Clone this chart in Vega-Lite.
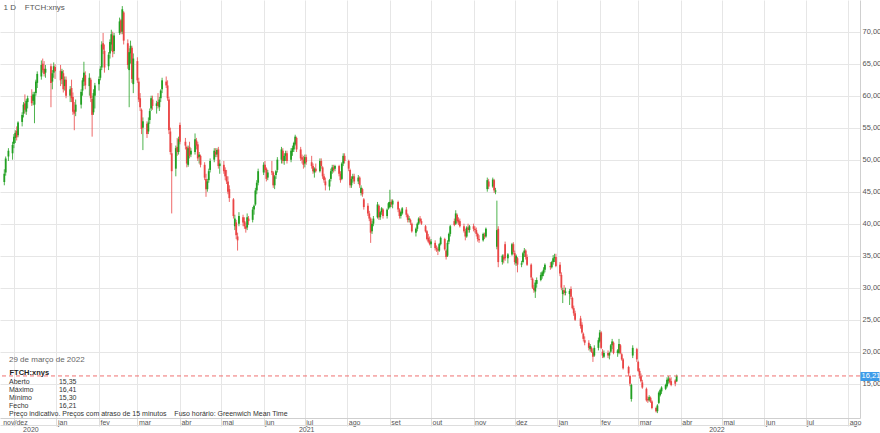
{
"$schema": "https://vega.github.io/schema/vega-lite/v6.json",
"width": 860, "height": 418,
"autosize": {"type": "none"},
"padding": {"left": 0, "top": 0, "right": 20, "bottom": 15},
"background": "white",
"config": {"view": {"stroke": null}, "font": "Liberation Sans", "axis": {"labelFont": "Liberation Sans", "titleFont": "Liberation Sans"}},
"title": {"text": "29 de março de 2022", "subtitle": ["Aberto", "Máximo", "Mínimo", "Fecho", "Preço indicativo. Preços com atraso de 15 minutos\u00a0\u00a0\u00a0\u00a0Fuso horário: Greenwich Mean Time"], "orient": "bottom", "anchor": "start", "frame": "group", "offset": -77, "dx": 9, "font": "Liberation Sans", "fontSize": 8, "fontWeight": "normal", "color": "#666666", "subtitleFont": "Liberation Sans", "subtitleFontSize": 7, "subtitleColor": "#333333", "subtitlePadding": 14, "subtitleLineHeight": 8.1},
"data": {"values": [
{"d":"2020-11-24","o":46.5,"h":48.5,"l":46.0,"c":47.8},
{"d":"2020-11-25","o":48.0,"h":50.5,"l":47.5,"c":50.2},
{"d":"2020-11-27","o":50.5,"h":51.8,"l":49.8,"c":51.4},
{"d":"2020-11-30","o":51.0,"h":52.8,"l":50.0,"c":52.3},
{"d":"2020-12-01","o":52.5,"h":54.0,"l":51.8,"c":53.6},
{"d":"2020-12-02","o":53.4,"h":54.6,"l":52.6,"c":54.2},
{"d":"2020-12-03","o":54.5,"h":55.2,"l":53.0,"c":53.5},
{"d":"2020-12-04","o":53.8,"h":56.0,"l":53.5,"c":55.8},
{"d":"2020-12-07","o":55.9,"h":57.4,"l":55.2,"c":57.0},
{"d":"2020-12-08","o":57.2,"h":59.0,"l":56.6,"c":58.6},
{"d":"2020-12-09","o":58.8,"h":60.2,"l":57.2,"c":57.8},
{"d":"2020-12-10","o":57.5,"h":59.5,"l":57.0,"c":59.2},
{"d":"2020-12-11","o":59.0,"h":60.0,"l":58.0,"c":59.6},
{"d":"2020-12-14","o":60.0,"h":61.0,"l":58.4,"c":58.8},
{"d":"2020-12-15","o":59.2,"h":60.6,"l":58.5,"c":60.2},
{"d":"2020-12-16","o":58.6,"h":60.6,"l":55.7,"c":60.2},
{"d":"2020-12-17","o":60.4,"h":62.5,"l":60.0,"c":62.2},
{"d":"2020-12-18","o":62.0,"h":63.8,"l":61.2,"c":63.4},
{"d":"2020-12-21","o":63.0,"h":65.5,"l":62.5,"c":64.8},
{"d":"2020-12-22","o":65.0,"h":65.8,"l":63.6,"c":64.0},
{"d":"2020-12-23","o":64.2,"h":65.4,"l":63.0,"c":63.4},
{"d":"2020-12-24","o":63.6,"h":64.8,"l":62.8,"c":64.2},
{"d":"2020-12-28","o":64.6,"h":65.0,"l":58.2,"c":62.0},
{"d":"2020-12-29","o":62.2,"h":64.0,"l":61.0,"c":63.5},
{"d":"2020-12-30","o":63.6,"h":65.2,"l":62.8,"c":64.6},
{"d":"2020-12-31","o":64.5,"h":64.9,"l":62.6,"c":63.8},
{"d":"2021-01-04","o":63.9,"h":64.8,"l":61.5,"c":62.4},
{"d":"2021-01-05","o":62.6,"h":64.2,"l":61.8,"c":63.8},
{"d":"2021-01-06","o":63.5,"h":64.0,"l":60.5,"c":61.0},
{"d":"2021-01-07","o":61.5,"h":63.0,"l":60.8,"c":62.5},
{"d":"2021-01-08","o":62.5,"h":63.0,"l":59.6,"c":60.0},
{"d":"2021-01-11","o":60.0,"h":61.5,"l":59.0,"c":61.0},
{"d":"2021-01-12","o":61.2,"h":62.5,"l":59.0,"c":59.6},
{"d":"2021-01-13","o":59.8,"h":60.5,"l":57.0,"c":57.5},
{"d":"2021-01-14","o":57.8,"h":59.0,"l":54.6,"c":57.2},
{"d":"2021-01-15","o":57.5,"h":59.4,"l":56.8,"c":58.6},
{"d":"2021-01-19","o":58.6,"h":61.0,"l":58.0,"c":60.6},
{"d":"2021-01-20","o":60.8,"h":62.8,"l":60.0,"c":62.4},
{"d":"2021-01-21","o":62.2,"h":65.3,"l":61.5,"c":63.6},
{"d":"2021-01-22","o":63.2,"h":63.8,"l":61.0,"c":61.6},
{"d":"2021-01-25","o":61.5,"h":63.5,"l":60.0,"c":62.8},
{"d":"2021-01-26","o":62.5,"h":62.8,"l":59.0,"c":59.6},
{"d":"2021-01-27","o":59.5,"h":60.0,"l":53.6,"c":57.0},
{"d":"2021-01-28","o":57.4,"h":61.0,"l":57.0,"c":60.4},
{"d":"2021-01-29","o":60.0,"h":62.0,"l":58.0,"c":61.6},
{"d":"2021-02-01","o":61.8,"h":63.0,"l":60.8,"c":62.6},
{"d":"2021-02-02","o":62.8,"h":64.6,"l":62.4,"c":64.2},
{"d":"2021-02-03","o":64.4,"h":68.5,"l":64.0,"c":68.0},
{"d":"2021-02-04","o":68.2,"h":69.8,"l":66.5,"c":67.2},
{"d":"2021-02-05","o":67.0,"h":68.0,"l":63.6,"c":64.4},
{"d":"2021-02-08","o":64.6,"h":66.8,"l":64.0,"c":66.4},
{"d":"2021-02-09","o":66.6,"h":68.8,"l":65.8,"c":68.4},
{"d":"2021-02-10","o":68.0,"h":70.3,"l":67.0,"c":69.6},
{"d":"2021-02-11","o":69.4,"h":70.0,"l":66.0,"c":66.8},
{"d":"2021-02-12","o":67.0,"h":69.8,"l":66.5,"c":69.4},
{"d":"2021-02-16","o":69.8,"h":72.2,"l":69.5,"c":71.6},
{"d":"2021-02-17","o":71.8,"h":72.0,"l":69.6,"c":70.0},
{"d":"2021-02-18","o":70.0,"h":74.0,"l":69.6,"c":73.5},
{"d":"2021-02-19","o":73.0,"h":73.2,"l":68.0,"c":68.6},
{"d":"2021-02-22","o":68.2,"h":68.8,"l":64.2,"c":64.8},
{"d":"2021-02-23","o":64.0,"h":67.4,"l":58.2,"c":66.8},
{"d":"2021-02-24","o":66.6,"h":68.6,"l":65.0,"c":67.8},
{"d":"2021-02-25","o":67.5,"h":67.8,"l":62.0,"c":62.6},
{"d":"2021-02-26","o":61.8,"h":66.6,"l":60.4,"c":65.8},
{"d":"2021-03-01","o":65.4,"h":66.0,"l":62.0,"c":62.4},
{"d":"2021-03-02","o":62.2,"h":62.8,"l":59.0,"c":59.4},
{"d":"2021-03-03","o":59.6,"h":60.4,"l":57.6,"c":58.2},
{"d":"2021-03-04","o":57.8,"h":58.0,"l":54.0,"c":54.8},
{"d":"2021-03-05","o":55.0,"h":56.6,"l":51.5,"c":56.0},
{"d":"2021-03-08","o":55.6,"h":56.0,"l":53.4,"c":54.0},
{"d":"2021-03-09","o":54.4,"h":56.6,"l":54.0,"c":55.8},
{"d":"2021-03-10","o":56.2,"h":58.0,"l":55.6,"c":57.6},
{"d":"2021-03-11","o":58.0,"h":60.0,"l":57.6,"c":59.6},
{"d":"2021-03-12","o":59.4,"h":60.0,"l":57.8,"c":58.4},
{"d":"2021-03-15","o":58.4,"h":59.2,"l":57.2,"c":58.8},
{"d":"2021-03-16","o":59.0,"h":60.4,"l":58.0,"c":58.4},
{"d":"2021-03-17","o":58.2,"h":59.8,"l":57.6,"c":59.4},
{"d":"2021-03-18","o":59.6,"h":61.0,"l":59.0,"c":60.8},
{"d":"2021-03-19","o":61.0,"h":62.8,"l":60.4,"c":62.4},
{"d":"2021-03-22","o":62.2,"h":63.0,"l":61.2,"c":61.6},
{"d":"2021-03-23","o":61.6,"h":62.4,"l":59.2,"c":59.6},
{"d":"2021-03-24","o":59.4,"h":59.8,"l":54.0,"c":54.6},
{"d":"2021-03-25","o":54.4,"h":55.0,"l":50.8,"c":51.2},
{"d":"2021-03-26","o":51.0,"h":52.6,"l":41.6,"c":48.2},
{"d":"2021-03-29","o":48.6,"h":52.2,"l":47.4,"c":51.8},
{"d":"2021-03-30","o":52.0,"h":53.4,"l":50.6,"c":51.2},
{"d":"2021-03-31","o":51.2,"h":53.6,"l":50.8,"c":53.2},
{"d":"2021-04-01","o":55.4,"h":55.8,"l":52.4,"c":52.8},
{"d":"2021-04-05","o":52.8,"h":53.4,"l":51.6,"c":52.2},
{"d":"2021-04-06","o":52.0,"h":52.2,"l":48.8,"c":49.4},
{"d":"2021-04-07","o":49.2,"h":52.2,"l":48.9,"c":51.8},
{"d":"2021-04-08","o":52.0,"h":52.8,"l":50.2,"c":50.6},
{"d":"2021-04-09","o":50.8,"h":51.8,"l":50.4,"c":51.4},
{"d":"2021-04-12","o":51.2,"h":54.1,"l":50.8,"c":53.2},
{"d":"2021-04-13","o":53.0,"h":53.4,"l":51.6,"c":52.2},
{"d":"2021-04-14","o":52.4,"h":52.8,"l":49.8,"c":50.2},
{"d":"2021-04-15","o":50.4,"h":51.2,"l":49.4,"c":50.8},
{"d":"2021-04-16","o":50.6,"h":50.8,"l":48.8,"c":49.2},
{"d":"2021-04-19","o":49.2,"h":49.6,"l":46.8,"c":47.2},
{"d":"2021-04-20","o":47.0,"h":47.8,"l":44.2,"c":45.4},
{"d":"2021-04-21","o":45.4,"h":47.0,"l":45.0,"c":46.6},
{"d":"2021-04-22","o":46.8,"h":48.6,"l":46.4,"c":48.2},
{"d":"2021-04-23","o":48.4,"h":50.2,"l":48.0,"c":49.8},
{"d":"2021-04-26","o":50.0,"h":51.8,"l":49.6,"c":51.4},
{"d":"2021-04-27","o":51.2,"h":51.8,"l":50.4,"c":50.8},
{"d":"2021-04-28","o":50.8,"h":51.8,"l":50.4,"c":51.5},
{"d":"2021-04-29","o":51.6,"h":52.0,"l":48.6,"c":49.0},
{"d":"2021-04-30","o":49.0,"h":50.0,"l":47.8,"c":49.4},
{"d":"2021-05-03","o":49.2,"h":49.8,"l":47.8,"c":48.2},
{"d":"2021-05-04","o":48.4,"h":48.8,"l":46.8,"c":47.4},
{"d":"2021-05-05","o":47.4,"h":48.4,"l":46.2,"c":46.6},
{"d":"2021-05-06","o":46.6,"h":47.4,"l":44.6,"c":45.0},
{"d":"2021-05-07","o":45.4,"h":46.0,"l":43.4,"c":44.0},
{"d":"2021-05-10","o":43.8,"h":44.0,"l":40.8,"c":41.2},
{"d":"2021-05-11","o":39.6,"h":41.4,"l":39.0,"c":40.8},
{"d":"2021-05-12","o":40.2,"h":40.6,"l":37.6,"c":38.2},
{"d":"2021-05-13","o":38.0,"h":38.6,"l":35.8,"c":37.4},
{"d":"2021-05-14","o":40.0,"h":41.8,"l":39.6,"c":41.2},
{"d":"2021-05-17","o":41.0,"h":41.4,"l":39.6,"c":40.2},
{"d":"2021-05-18","o":40.4,"h":41.0,"l":39.2,"c":39.6},
{"d":"2021-05-19","o":39.6,"h":40.2,"l":38.6,"c":39.2},
{"d":"2021-05-20","o":39.4,"h":41.6,"l":39.0,"c":41.0},
{"d":"2021-05-21","o":40.8,"h":41.2,"l":39.8,"c":40.4},
{"d":"2021-05-24","o":40.6,"h":42.6,"l":40.2,"c":42.2},
{"d":"2021-05-25","o":42.2,"h":43.0,"l":41.4,"c":42.8},
{"d":"2021-05-26","o":43.0,"h":45.6,"l":42.8,"c":45.2},
{"d":"2021-05-27","o":45.2,"h":46.8,"l":44.6,"c":46.4},
{"d":"2021-05-28","o":46.4,"h":48.6,"l":46.0,"c":48.2},
{"d":"2021-06-01","o":48.0,"h":49.6,"l":47.6,"c":49.2},
{"d":"2021-06-02","o":49.2,"h":49.8,"l":48.0,"c":48.4},
{"d":"2021-06-03","o":48.6,"h":48.8,"l":46.6,"c":47.0},
{"d":"2021-06-04","o":47.2,"h":48.4,"l":46.8,"c":48.0},
{"d":"2021-06-07","o":48.2,"h":49.8,"l":47.6,"c":48.0},
{"d":"2021-06-08","o":48.0,"h":48.2,"l":45.6,"c":46.0},
{"d":"2021-06-09","o":46.0,"h":47.6,"l":45.4,"c":47.4},
{"d":"2021-06-10","o":47.6,"h":48.4,"l":47.0,"c":48.2},
{"d":"2021-06-11","o":48.4,"h":50.4,"l":48.0,"c":50.0},
{"d":"2021-06-14","o":50.0,"h":52.0,"l":49.4,"c":51.6},
{"d":"2021-06-15","o":51.4,"h":51.8,"l":49.4,"c":49.8},
{"d":"2021-06-16","o":49.8,"h":51.0,"l":49.2,"c":50.6},
{"d":"2021-06-17","o":50.6,"h":51.4,"l":49.8,"c":51.0},
{"d":"2021-06-18","o":51.0,"h":51.4,"l":49.4,"c":49.8},
{"d":"2021-06-21","o":50.0,"h":51.8,"l":49.6,"c":51.4},
{"d":"2021-06-22","o":51.2,"h":52.2,"l":50.6,"c":51.8},
{"d":"2021-06-23","o":51.6,"h":52.8,"l":51.2,"c":52.6},
{"d":"2021-06-24","o":52.4,"h":53.9,"l":52.2,"c":53.6},
{"d":"2021-06-25","o":53.4,"h":53.6,"l":51.2,"c":51.6},
{"d":"2021-06-28","o":51.6,"h":52.0,"l":49.8,"c":50.2},
{"d":"2021-06-29","o":50.4,"h":50.8,"l":49.4,"c":50.0},
{"d":"2021-06-30","o":50.0,"h":50.6,"l":48.6,"c":49.2},
{"d":"2021-07-01","o":49.4,"h":50.8,"l":48.8,"c":50.4},
{"d":"2021-07-02","o":50.4,"h":50.8,"l":49.2,"c":49.6},
{"d":"2021-07-06","o":49.6,"h":50.6,"l":48.6,"c":49.0},
{"d":"2021-07-07","o":49.0,"h":49.4,"l":47.8,"c":48.2},
{"d":"2021-07-08","o":48.0,"h":48.8,"l":47.2,"c":48.6},
{"d":"2021-07-09","o":48.6,"h":49.4,"l":48.0,"c":48.2},
{"d":"2021-07-12","o":48.2,"h":50.2,"l":48.0,"c":49.8},
{"d":"2021-07-13","o":49.8,"h":50.2,"l":48.6,"c":49.0},
{"d":"2021-07-14","o":48.8,"h":49.0,"l":47.0,"c":47.4},
{"d":"2021-07-15","o":47.4,"h":47.8,"l":46.4,"c":46.8},
{"d":"2021-07-16","o":46.6,"h":47.2,"l":45.2,"c":46.0},
{"d":"2021-07-19","o":45.8,"h":47.0,"l":45.2,"c":46.8},
{"d":"2021-07-20","o":47.0,"h":48.6,"l":46.6,"c":48.2},
{"d":"2021-07-21","o":48.2,"h":49.2,"l":47.8,"c":48.8},
{"d":"2021-07-22","o":48.8,"h":49.2,"l":48.0,"c":48.4},
{"d":"2021-07-23","o":48.6,"h":49.2,"l":48.2,"c":49.0},
{"d":"2021-07-26","o":49.0,"h":49.2,"l":47.4,"c":47.8},
{"d":"2021-07-27","o":47.8,"h":48.2,"l":46.4,"c":46.8},
{"d":"2021-07-28","o":47.0,"h":49.6,"l":46.8,"c":49.4},
{"d":"2021-07-29","o":49.4,"h":51.0,"l":49.0,"c":50.6},
{"d":"2021-07-30","o":50.6,"h":51.0,"l":49.4,"c":49.8},
{"d":"2021-08-02","o":49.8,"h":50.0,"l":48.2,"c":48.6},
{"d":"2021-08-03","o":48.4,"h":48.6,"l":45.6,"c":46.0},
{"d":"2021-08-04","o":46.0,"h":47.4,"l":45.6,"c":47.0},
{"d":"2021-08-05","o":47.0,"h":47.8,"l":46.4,"c":47.4},
{"d":"2021-08-06","o":47.4,"h":47.8,"l":46.2,"c":46.6},
{"d":"2021-08-09","o":46.6,"h":47.6,"l":46.2,"c":47.2},
{"d":"2021-08-10","o":47.2,"h":47.4,"l":45.6,"c":46.0},
{"d":"2021-08-11","o":44.8,"h":46.0,"l":44.4,"c":45.6},
{"d":"2021-08-12","o":45.4,"h":45.6,"l":44.2,"c":44.6},
{"d":"2021-08-13","o":43.8,"h":44.0,"l":42.2,"c":42.6},
{"d":"2021-08-16","o":42.8,"h":43.2,"l":41.2,"c":41.6},
{"d":"2021-08-17","o":41.6,"h":42.0,"l":40.4,"c":40.8},
{"d":"2021-08-18","o":40.8,"h":41.0,"l":37.0,"c":38.6},
{"d":"2021-08-19","o":38.8,"h":40.4,"l":38.4,"c":40.0},
{"d":"2021-08-20","o":40.0,"h":41.2,"l":39.6,"c":40.8},
{"d":"2021-08-23","o":41.0,"h":43.4,"l":40.8,"c":43.0},
{"d":"2021-08-24","o":42.8,"h":43.0,"l":40.6,"c":41.0},
{"d":"2021-08-25","o":41.0,"h":42.0,"l":40.6,"c":41.8},
{"d":"2021-08-26","o":41.8,"h":42.6,"l":41.4,"c":42.4},
{"d":"2021-08-27","o":42.2,"h":42.4,"l":40.8,"c":41.2},
{"d":"2021-08-30","o":41.2,"h":42.4,"l":40.8,"c":42.2},
{"d":"2021-08-31","o":42.4,"h":43.4,"l":42.2,"c":43.2},
{"d":"2021-09-01","o":42.6,"h":45.3,"l":42.4,"c":43.4},
{"d":"2021-09-02","o":43.4,"h":43.8,"l":42.6,"c":43.0},
{"d":"2021-09-03","o":43.0,"h":43.8,"l":42.4,"c":43.6},
{"d":"2021-09-07","o":43.4,"h":43.6,"l":41.8,"c":42.2},
{"d":"2021-09-08","o":42.2,"h":42.4,"l":40.8,"c":41.2},
{"d":"2021-09-09","o":41.2,"h":42.0,"l":40.8,"c":41.8},
{"d":"2021-09-10","o":41.6,"h":42.6,"l":41.4,"c":42.4},
{"d":"2021-09-13","o":42.2,"h":42.6,"l":41.0,"c":41.4},
{"d":"2021-09-14","o":41.4,"h":41.6,"l":40.2,"c":40.6},
{"d":"2021-09-15","o":40.6,"h":41.2,"l":40.2,"c":40.8},
{"d":"2021-09-16","o":40.6,"h":40.8,"l":39.8,"c":40.2},
{"d":"2021-09-17","o":40.0,"h":40.2,"l":38.6,"c":38.8},
{"d":"2021-09-20","o":38.6,"h":39.4,"l":38.0,"c":39.2},
{"d":"2021-09-21","o":39.2,"h":40.2,"l":38.8,"c":40.0},
{"d":"2021-09-22","o":40.0,"h":41.0,"l":39.8,"c":40.8},
{"d":"2021-09-23","o":40.8,"h":41.2,"l":40.2,"c":40.4},
{"d":"2021-09-24","o":40.4,"h":40.8,"l":39.8,"c":40.0},
{"d":"2021-09-27","o":39.6,"h":39.8,"l":38.6,"c":38.8},
{"d":"2021-09-28","o":38.8,"h":39.0,"l":37.4,"c":37.6},
{"d":"2021-09-29","o":37.8,"h":38.4,"l":37.0,"c":37.2},
{"d":"2021-09-30","o":37.4,"h":38.0,"l":36.6,"c":36.8},
{"d":"2021-10-01","o":36.8,"h":37.6,"l":36.2,"c":37.2},
{"d":"2021-10-04","o":37.0,"h":37.4,"l":35.8,"c":36.2},
{"d":"2021-10-05","o":36.2,"h":36.6,"l":35.6,"c":36.0},
{"d":"2021-10-06","o":36.0,"h":36.4,"l":35.1,"c":35.8},
{"d":"2021-10-07","o":35.8,"h":37.0,"l":35.6,"c":36.8},
{"d":"2021-10-08","o":36.8,"h":38.0,"l":36.6,"c":37.8},
{"d":"2021-10-11","o":37.6,"h":37.8,"l":35.8,"c":36.0},
{"d":"2021-10-12","o":35.8,"h":36.0,"l":34.4,"c":34.8},
{"d":"2021-10-13","o":35.0,"h":37.4,"l":34.8,"c":37.0},
{"d":"2021-10-14","o":37.2,"h":38.6,"l":36.8,"c":38.4},
{"d":"2021-10-15","o":38.4,"h":39.8,"l":38.0,"c":39.6},
{"d":"2021-10-18","o":40.4,"h":40.8,"l":39.6,"c":39.8},
{"d":"2021-10-19","o":40.0,"h":42.1,"l":39.8,"c":41.6},
{"d":"2021-10-20","o":41.4,"h":41.6,"l":40.0,"c":40.4},
{"d":"2021-10-21","o":40.6,"h":41.0,"l":39.8,"c":40.2},
{"d":"2021-10-22","o":40.4,"h":40.8,"l":39.4,"c":39.6},
{"d":"2021-10-25","o":39.6,"h":40.0,"l":38.6,"c":38.8},
{"d":"2021-10-26","o":38.8,"h":39.2,"l":37.4,"c":38.0},
{"d":"2021-10-27","o":38.0,"h":39.6,"l":37.8,"c":39.4},
{"d":"2021-10-28","o":39.4,"h":40.0,"l":38.6,"c":39.0},
{"d":"2021-10-29","o":39.0,"h":39.8,"l":38.6,"c":39.6},
{"d":"2021-11-01","o":39.6,"h":40.0,"l":38.8,"c":39.2},
{"d":"2021-11-02","o":39.2,"h":39.6,"l":38.6,"c":39.0},
{"d":"2021-11-03","o":39.0,"h":39.4,"l":38.0,"c":38.4},
{"d":"2021-11-04","o":38.4,"h":38.6,"l":37.2,"c":37.6},
{"d":"2021-11-05","o":37.6,"h":38.2,"l":37.0,"c":37.4},
{"d":"2021-11-08","o":37.4,"h":38.6,"l":37.2,"c":38.4},
{"d":"2021-11-09","o":38.2,"h":38.6,"l":37.6,"c":38.0},
{"d":"2021-11-10","o":38.0,"h":39.4,"l":37.8,"c":39.2},
{"d":"2021-11-11","o":45.4,"h":47.2,"l":45.0,"c":46.8},
{"d":"2021-11-12","o":46.6,"h":47.0,"l":45.4,"c":45.8},
{"d":"2021-11-15","o":45.8,"h":47.2,"l":45.6,"c":46.9},
{"d":"2021-11-16","o":46.8,"h":47.0,"l":44.8,"c":45.2},
{"d":"2021-11-17","o":45.0,"h":45.6,"l":44.6,"c":45.2},
{"d":"2021-11-18","o":36.4,"h":43.6,"l":36.0,"c":39.0},
{"d":"2021-11-19","o":39.2,"h":39.6,"l":33.2,"c":34.0},
{"d":"2021-11-22","o":34.0,"h":35.2,"l":33.6,"c":35.0},
{"d":"2021-11-23","o":34.8,"h":35.2,"l":33.8,"c":34.4},
{"d":"2021-11-24","o":36.8,"h":37.2,"l":34.2,"c":34.6},
{"d":"2021-11-26","o":34.6,"h":35.4,"l":33.8,"c":35.2},
{"d":"2021-11-29","o":35.2,"h":37.0,"l":35.0,"c":36.8},
{"d":"2021-11-30","o":36.8,"h":37.1,"l":35.2,"c":35.6},
{"d":"2021-12-01","o":35.4,"h":35.8,"l":33.6,"c":34.0},
{"d":"2021-12-02","o":33.8,"h":35.2,"l":33.4,"c":35.0},
{"d":"2021-12-03","o":34.6,"h":34.8,"l":32.4,"c":33.6},
{"d":"2021-12-06","o":33.6,"h":34.2,"l":33.2,"c":33.8},
{"d":"2021-12-07","o":34.0,"h":35.6,"l":33.8,"c":35.4},
{"d":"2021-12-08","o":35.4,"h":36.2,"l":34.8,"c":35.8},
{"d":"2021-12-09","o":35.8,"h":36.0,"l":34.4,"c":34.8},
{"d":"2021-12-10","o":34.8,"h":35.2,"l":33.4,"c":33.6},
{"d":"2021-12-13","o":33.6,"h":33.8,"l":31.2,"c":31.6},
{"d":"2021-12-14","o":31.4,"h":31.6,"l":29.8,"c":30.0},
{"d":"2021-12-15","o":30.0,"h":30.4,"l":29.2,"c":29.6},
{"d":"2021-12-16","o":29.4,"h":31.2,"l":28.4,"c":30.8},
{"d":"2021-12-17","o":30.6,"h":31.6,"l":30.0,"c":31.2},
{"d":"2021-12-20","o":31.2,"h":32.4,"l":31.0,"c":32.0},
{"d":"2021-12-21","o":31.8,"h":32.6,"l":31.4,"c":32.4},
{"d":"2021-12-22","o":32.2,"h":33.2,"l":31.8,"c":32.8},
{"d":"2021-12-23","o":32.8,"h":33.8,"l":32.4,"c":33.6},
{"d":"2021-12-27","o":33.4,"h":34.0,"l":32.8,"c":33.2},
{"d":"2021-12-28","o":33.2,"h":34.2,"l":33.0,"c":34.0},
{"d":"2021-12-29","o":34.0,"h":35.1,"l":33.6,"c":34.6},
{"d":"2021-12-30","o":34.6,"h":35.3,"l":34.0,"c":34.8},
{"d":"2021-12-31","o":34.8,"h":35.3,"l":33.2,"c":33.4},
{"d":"2022-01-03","o":33.6,"h":34.0,"l":31.8,"c":32.2},
{"d":"2022-01-04","o":32.0,"h":32.4,"l":29.6,"c":30.0},
{"d":"2022-01-05","o":29.0,"h":30.0,"l":27.6,"c":29.6},
{"d":"2022-01-06","o":29.6,"h":30.4,"l":28.8,"c":29.2},
{"d":"2022-01-07","o":29.2,"h":30.0,"l":28.8,"c":29.4},
{"d":"2022-01-10","o":29.0,"h":29.8,"l":27.3,"c":29.5},
{"d":"2022-01-11","o":29.8,"h":30.2,"l":28.2,"c":28.6},
{"d":"2022-01-12","o":28.4,"h":28.6,"l":26.6,"c":26.8},
{"d":"2022-01-13","o":26.8,"h":27.2,"l":25.6,"c":26.0},
{"d":"2022-01-14","o":26.0,"h":26.4,"l":24.8,"c":25.0},
{"d":"2022-01-18","o":25.2,"h":25.6,"l":23.6,"c":24.0},
{"d":"2022-01-19","o":24.2,"h":24.6,"l":22.8,"c":23.0},
{"d":"2022-01-20","o":22.8,"h":23.0,"l":21.6,"c":22.0},
{"d":"2022-01-21","o":21.8,"h":22.4,"l":21.0,"c":21.4},
{"d":"2022-01-24","o":21.4,"h":21.8,"l":20.2,"c":20.6},
{"d":"2022-01-25","o":20.4,"h":21.2,"l":20.0,"c":20.9},
{"d":"2022-01-26","o":20.6,"h":20.8,"l":19.8,"c":20.0},
{"d":"2022-01-27","o":20.0,"h":20.4,"l":18.4,"c":19.2},
{"d":"2022-01-28","o":19.4,"h":21.0,"l":19.2,"c":20.6},
{"d":"2022-01-31","o":20.6,"h":22.2,"l":20.2,"c":21.8},
{"d":"2022-02-01","o":21.6,"h":23.4,"l":21.4,"c":23.0},
{"d":"2022-02-02","o":23.0,"h":23.2,"l":20.4,"c":20.6},
{"d":"2022-02-03","o":20.0,"h":20.4,"l":19.0,"c":19.4},
{"d":"2022-02-04","o":19.2,"h":20.2,"l":19.0,"c":19.8},
{"d":"2022-02-07","o":19.8,"h":20.2,"l":19.0,"c":19.4},
{"d":"2022-02-08","o":19.4,"h":20.0,"l":18.8,"c":19.8},
{"d":"2022-02-09","o":20.0,"h":21.2,"l":19.8,"c":21.0},
{"d":"2022-02-10","o":21.0,"h":22.0,"l":20.4,"c":21.6},
{"d":"2022-02-11","o":21.4,"h":21.6,"l":19.6,"c":19.8},
{"d":"2022-02-14","o":19.8,"h":20.4,"l":19.2,"c":20.2},
{"d":"2022-02-15","o":19.8,"h":22.0,"l":19.6,"c":21.2},
{"d":"2022-02-16","o":21.0,"h":21.2,"l":19.6,"c":19.8},
{"d":"2022-02-17","o":19.6,"h":19.8,"l":18.6,"c":18.8},
{"d":"2022-02-18","o":18.8,"h":19.0,"l":17.2,"c":17.4},
{"d":"2022-02-22","o":17.6,"h":17.8,"l":16.2,"c":16.6},
{"d":"2022-02-23","o":16.2,"h":16.4,"l":14.6,"c":15.0},
{"d":"2022-02-24","o":12.6,"h":15.0,"l":12.2,"c":14.8},
{"d":"2022-02-25","o":19.4,"h":21.0,"l":19.0,"c":20.6},
{"d":"2022-02-28","o":20.4,"h":20.6,"l":18.4,"c":18.8},
{"d":"2022-03-01","o":18.4,"h":18.6,"l":16.8,"c":17.0},
{"d":"2022-03-02","o":17.0,"h":17.4,"l":15.8,"c":16.2},
{"d":"2022-03-03","o":16.2,"h":16.6,"l":15.2,"c":15.4},
{"d":"2022-03-04","o":15.2,"h":15.6,"l":14.2,"c":14.4},
{"d":"2022-03-07","o":14.2,"h":14.4,"l":12.2,"c":12.4},
{"d":"2022-03-08","o":12.6,"h":13.0,"l":12.0,"c":12.4},
{"d":"2022-03-09","o":12.4,"h":13.2,"l":12.2,"c":12.9},
{"d":"2022-03-10","o":12.8,"h":13.0,"l":12.0,"c":12.2},
{"d":"2022-03-11","o":12.2,"h":12.4,"l":11.0,"c":11.2},
{"d":"2022-03-14","o":11.2,"h":11.4,"l":10.5,"c":10.7},
{"d":"2022-03-15","o":10.7,"h":11.8,"l":10.4,"c":11.6},
{"d":"2022-03-16","o":12.0,"h":13.8,"l":11.8,"c":13.6},
{"d":"2022-03-17","o":13.2,"h":14.2,"l":13.0,"c":14.0},
{"d":"2022-03-18","o":13.8,"h":14.6,"l":13.4,"c":14.4},
{"d":"2022-03-21","o":14.2,"h":15.0,"l":14.0,"c":14.8},
{"d":"2022-03-22","o":14.6,"h":16.0,"l":14.4,"c":15.6},
{"d":"2022-03-23","o":15.4,"h":16.2,"l":15.0,"c":15.8},
{"d":"2022-03-24","o":15.8,"h":16.0,"l":15.0,"c":15.2},
{"d":"2022-03-25","o":15.4,"h":16.0,"l":14.6,"c":14.8},
{"d":"2022-03-28","o":15.5,"h":15.7,"l":14.6,"c":15.0},
{"d":"2022-03-29","o":15.35,"h":16.41,"l":15.30,"c":16.21}
]},
"layer": [
 {"mark": {"type": "rule", "strokeWidth": 1, "opacity": 0.8},
  "encoding": {
   "x": {"field": "d", "type": "temporal",
     "scale": {"type": "utc", "domain": [{"year": 2020, "month": "nov", "date": 24, "hours": 12, "utc": true}, {"year": 2022, "month": "aug", "date": 6, "utc": true}], "nice": false},
     "axis": {"orient": "bottom", "tickCount": {"interval": "month", "step": 1}, "grid": true, "gridColor": "#e6e6e6", "domain": true, "domainColor": "#cfcfcf", "ticks": true, "tickSize": 8, "tickColor": "#dddddd",
       "labelExpr": "utcyear(datum.value) == 2020 ? 'nov/dez' : ['jan','fev','mar','abr','mai','jun','jul','ago','set','out','nov','dez'][utcmonth(datum.value)]",
       "labelAlign": {"condition": {"test": "utcyear(datum.value) == 2020", "value": "center"}, "value": "left"},
       "labelBaseline": "top", "labelPadding": -7.5, "labelOffset": 1, "labelFontSize": 7, "labelColor": "#555555", "labelFlush": false, "labelOverlap": false, "labelBound": false,
       "title": "FTCH:xnys", "titleX": 9, "titleY": -44, "titleAlign": "left", "titleBaseline": "alphabetic", "titleAnchor": "start", "titleAngle": 0, "titleFontSize": 7.5, "titleFontWeight": "bold", "titleColor": "#222222"}},
   "y": {"field": "l", "type": "quantitative", "scale": {"domain": [9.64, 74.95], "nice": false, "zero": false},
     "axis": {"orient": "right", "values": [15, 20, 25, 30, 35, 40, 45, 50, 55, 60, 65, 70], "labelExpr": "replace(format(datum.value, '.2f'), '.', ',')", "grid": true, "gridColor": "#e6e6e6", "ticks": false, "domain": true, "domainColor": "#cfcfcf", "labelPadding": 2, "labelFontSize": 7.5, "labelColor": "#555555", "labelBaseline": "middle", "labelFlush": false, "labelOverlap": false,
       "title": ["15,35", "16,41", "15,30", "16,21"], "titleX": -784, "titleY": 383, "titleAngle": 0, "titleAlign": "right", "titleBaseline": "alphabetic", "titleFontSize": 7, "titleFontWeight": "normal", "titleColor": "#333333", "titleLineHeight": 8}},
   "y2": {"field": "h"},
   "color": {"condition": {"test": "datum.c >= datum.o", "value": "#22a022"}, "value": "#ea4545"}
  }},
 {"mark": {"type": "bar", "width": 1.8},
  "encoding": {
   "x": {"field": "d", "type": "temporal",
     "scale": {"type": "utc", "domain": [{"year": 2020, "month": "nov", "date": 24, "hours": 12, "utc": true}, {"year": 2022, "month": "aug", "date": 6, "utc": true}], "nice": false},
     "axis": {"orient": "bottom", "offset": 7, "values": [{"year": 2020, "month": "dec", "date": 13, "utc": true}, {"year": 2021, "month": "jul", "date": 2, "utc": true}, {"year": 2022, "month": "apr", "date": 27, "utc": true}], "labelExpr": "'' + utcyear(datum.value)", "grid": false, "ticks": false, "domain": true, "domainColor": "#dddddd", "labelAlign": "center", "labelBaseline": "top", "labelPadding": 0.5, "labelFontSize": 7, "labelColor": "#555555", "labelFlush": false, "labelOverlap": false,
       "title": "1 D\u00a0\u00a0\u00a0\u00a0FTCH:xnys", "titleX": 3, "titleY": -416, "titleAlign": "left", "titleBaseline": "alphabetic", "titleAnchor": "start", "titleAngle": 0, "titleFontSize": 8, "titleFontWeight": "normal", "titleColor": "#555555"}},
   "y": {"field": "o", "type": "quantitative", "scale": {"domain": [9.64, 74.95], "nice": false, "zero": false}, "axis": null},
   "y2": {"field": "c"},
   "color": {"condition": {"test": "datum.c >= datum.o", "value": "#22a022"}, "value": "#ea4545"}
  }},
 {"transform": [{"filter": "datum.c === 16.21 && datum.o === 15.35"}],
  "mark": {"type": "rule", "strokeDash": [4, 3], "color": "#ef7070", "strokeWidth": 1},
  "encoding": {
   "y": {"field": "c", "type": "quantitative", "scale": {"domain": [9.64, 74.95], "nice": false, "zero": false},
     "axis": {"orient": "right", "values": [16.21], "labelExpr": "replace(format(datum.value, '.2f'), '.', ',')", "grid": false, "domain": false, "ticks": true, "tickSize": 19, "tickWidth": 9, "tickColor": "#3d9be9", "labelColor": "#ffffff", "labelPadding": -18, "labelFontSize": 7.5, "labelBaseline": "middle", "labelAlign": "left", "labelFlush": false, "labelOverlap": false, "title": null}}
  }}
],
"resolve": {"axis": {"x": "independent", "y": "independent"}}
}
